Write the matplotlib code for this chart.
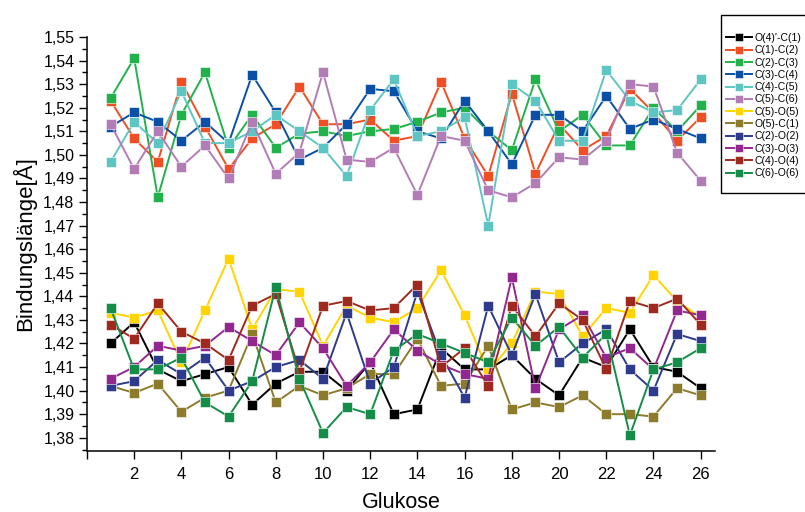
import matplotlib
matplotlib.use('Agg')
import matplotlib.pyplot as plt
from matplotlib.patches import Rectangle
from matplotlib.ticker import MultipleLocator, FuncFormatter
import numpy as np

plt.rcParams['font.family'] = ['Liberation Sans', 'DejaVu Sans']

glukose = np.arange(1, 27)

o4_c1 = [1.420, 1.429, 1.409, 1.404, 1.407, 1.410, 1.394, 1.403, 1.408, 1.408, 1.400, 1.412, 1.390,
         1.392, 1.418, 1.409, 1.409, 1.415, 1.405, 1.398, 1.414, 1.410, 1.426, 1.410, 1.408, 1.401]
c1_c2 = [1.523, 1.507, 1.497, 1.531, 1.512, 1.494, 1.507, 1.513, 1.529, 1.513, 1.513, 1.515, 1.506,
         1.508, 1.531, 1.507, 1.491, 1.526, 1.492, 1.513, 1.502, 1.508, 1.528, 1.518, 1.506, 1.516]
c2_c3 = [1.524, 1.541, 1.482, 1.517, 1.535, 1.503, 1.517, 1.503, 1.509, 1.510, 1.508, 1.510, 1.511,
         1.514, 1.518, 1.520, 1.510, 1.502, 1.532, 1.510, 1.517, 1.504, 1.504, 1.520, 1.510, 1.521]
c3_c4 = [1.512, 1.518, 1.514, 1.506, 1.514, 1.505, 1.534, 1.518, 1.498, 1.503, 1.513, 1.528, 1.527,
         1.510, 1.507, 1.523, 1.510, 1.496, 1.517, 1.517, 1.510, 1.525, 1.511, 1.515, 1.511, 1.507]
c4_c5 = [1.497, 1.514, 1.505, 1.527, 1.505, 1.505, 1.510, 1.517, 1.510, 1.503, 1.491, 1.519, 1.532,
         1.508, 1.510, 1.516, 1.470, 1.530, 1.523, 1.506, 1.506, 1.536, 1.523, 1.518, 1.519, 1.532]
c5_c6 = [1.513, 1.494, 1.510, 1.495, 1.504, 1.490, 1.514, 1.492, 1.501, 1.535, 1.498, 1.497, 1.503,
         1.483, 1.508, 1.506, 1.485, 1.482, 1.488, 1.499, 1.498, 1.506, 1.530, 1.529, 1.501, 1.489]
c5_o5 = [1.433, 1.431, 1.434, 1.412, 1.434, 1.456, 1.426, 1.443, 1.442, 1.419, 1.436, 1.431, 1.429,
         1.435, 1.451, 1.432, 1.408, 1.420, 1.442, 1.441, 1.423, 1.435, 1.433, 1.449, 1.438, 1.431]
o5_c1 = [1.402, 1.399, 1.403, 1.391, 1.397, 1.400, 1.424, 1.395, 1.402, 1.398, 1.401, 1.407, 1.407,
         1.422, 1.402, 1.403, 1.419, 1.392, 1.395, 1.393, 1.398, 1.390, 1.390, 1.389, 1.401, 1.398]
c2_o2 = [1.402, 1.404, 1.413, 1.407, 1.414, 1.400, 1.404, 1.410, 1.413, 1.405, 1.433, 1.403, 1.410,
         1.442, 1.415, 1.397, 1.436, 1.415, 1.441, 1.412, 1.420, 1.426, 1.409, 1.400, 1.424, 1.421]
c3_o3 = [1.405, 1.410, 1.419, 1.417, 1.419, 1.427, 1.421, 1.415, 1.429, 1.418, 1.402, 1.412, 1.426,
         1.417, 1.411, 1.407, 1.405, 1.448, 1.401, 1.426, 1.432, 1.414, 1.418, 1.409, 1.434, 1.432]
c4_o4 = [1.428, 1.422, 1.437, 1.425, 1.420, 1.413, 1.436, 1.441, 1.408, 1.436, 1.438, 1.434, 1.435,
         1.445, 1.410, 1.418, 1.402, 1.436, 1.423, 1.437, 1.430, 1.409, 1.438, 1.435, 1.439, 1.428]
c6_o6 = [1.435, 1.409, 1.409, 1.414, 1.395, 1.389, 1.404, 1.444, 1.405, 1.382, 1.393, 1.390, 1.417,
         1.424, 1.420, 1.416, 1.412, 1.431, 1.419, 1.427, 1.414, 1.424, 1.381, 1.409, 1.412, 1.418]

labels = ["O(4)'-C(1)", "C(1)-C(2)", "C(2)-C(3)", "C(3)-C(4)", "C(4)-C(5)", "C(5)-C(6)",
          "C(5)-O(5)", "O(5)-C(1)", "C(2)-O(2)", "C(3)-O(3)", "C(4)-O(4)", "C(6)-O(6)"]
series = [o4_c1, c1_c2, c2_c3, c3_c4, c4_c5, c5_c6, c5_o5, o5_c1, c2_o2, c3_o3, c4_o4, c6_o6]
colors = ['#000000', '#f04e23', '#22b24c', '#0b4fa6', '#5ec6c2', '#b27cb6',
          '#ffd400', '#8c7b2b', '#2e3a8c', '#92278f', '#9e2a1f', '#138d48']

fig = plt.figure(figsize=(8.05, 5.12), dpi=100)
ax = fig.add_axes([0.108, 0.1197, 0.780, 0.808])

handles = []
for vals, lab, col in zip(series, labels, colors):
    h, = ax.plot(glukose, vals, color=col, lw=1.4, marker='s', markersize=7.4,
                 markerfacecolor=col, markeredgecolor='white', markeredgewidth=0.4, label=lab)
    handles.append(h)

ax.set_xlim(0, 26.6)
ax.set_ylim(1.3745, 1.55)
ax.set_xticks(range(0, 27, 2))
ax.set_xticklabels([''] + [str(i) for i in range(2, 27, 2)])
ax.yaxis.set_major_locator(MultipleLocator(0.01))
ax.yaxis.set_minor_locator(MultipleLocator(0.005))
ax.yaxis.set_major_formatter(FuncFormatter(lambda v, p: f"{v:.2f}".replace('.', ',')))
ax.tick_params(axis='y', which='major', direction='out', length=6, width=1, labelsize=11.5, pad=3)
ax.tick_params(axis='y', which='minor', direction='out', length=3.5, width=1)
ax.tick_params(axis='x', which='major', direction='out', length=6, width=1, labelsize=12, pad=6)
for s in ['top', 'right']:
    ax.spines[s].set_visible(False)
for s in ['left', 'bottom']:
    ax.spines[s].set_linewidth(1.1)

ax.set_xlabel('Glukose', fontsize=15.5, labelpad=7)
ax.set_ylabel('Bindungslänge[Å]', fontsize=16, labelpad=5)

# legend box, cut off at right edge like the original
fig.patches.append(Rectangle((721 / 805, 1 - 193 / 512), 0.2, (193 - 15) / 512,
                             transform=fig.transFigure, fill=False, edgecolor='black', lw=1))
fig.legend(handles=handles, loc='upper left', bbox_to_anchor=(726 / 805, 1 - 33 / 512),
           frameon=False, fontsize=7.5, handlelength=2.5, handletextpad=0.2,
           labelspacing=0.22, borderpad=0, borderaxespad=0, markerscale=0.85)

plt.savefig('out.png', dpi=100)
